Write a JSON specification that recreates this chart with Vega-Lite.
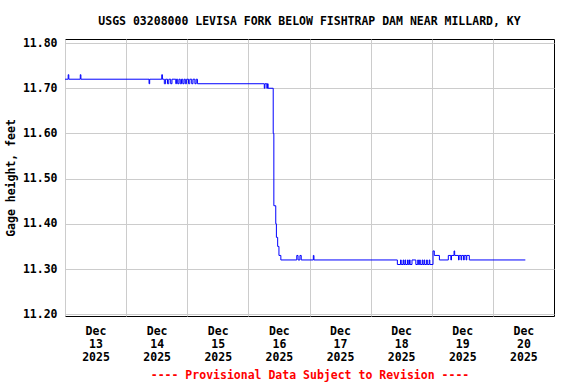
{
  "$schema": "https://vega.github.io/schema/vega-lite/v6.json",
  "autosize": "none",
  "width": 489,
  "height": 277,
  "padding": {"left": 65, "top": 39, "right": 22, "bottom": 68},
  "background": "white",
  "title": {
    "text": "USGS 03208000 LEVISA FORK BELOW FISHTRAP DAM NEAR MILLARD, KY",
    "font": "DejaVu Sans Mono",
    "fontSize": 11.5,
    "fontWeight": "bold",
    "color": "black",
    "anchor": "middle",
    "offset": 10
  },
  "config": {
    "view": {"stroke": "black", "strokeWidth": 1},
    "axis": {
      "labelFont": "DejaVu Sans Mono",
      "labelFontSize": 11.5,
      "labelFontWeight": "bold",
      "labelColor": "black",
      "titleFont": "DejaVu Sans Mono",
      "titleFontSize": 11.5,
      "titleFontWeight": "bold",
      "titleColor": "black",
      "gridColor": "#cccccc",
      "gridOpacity": 1,
      "gridWidth": 1,
      "domain": false,
      "ticks": false
    }
  },
  "data": {
    "values": [
      {"t": "2025-12-13T00:00", "v": 11.72},
      {"t": "2025-12-13T01:15", "v": 11.73},
      {"t": "2025-12-13T01:30", "v": 11.72},
      {"t": "2025-12-13T06:00", "v": 11.73},
      {"t": "2025-12-13T06:15", "v": 11.72},
      {"t": "2025-12-14T09:00", "v": 11.71},
      {"t": "2025-12-14T09:15", "v": 11.72},
      {"t": "2025-12-14T14:00", "v": 11.73},
      {"t": "2025-12-14T14:15", "v": 11.72},
      {"t": "2025-12-14T15:00", "v": 11.71},
      {"t": "2025-12-14T15:30", "v": 11.72},
      {"t": "2025-12-14T16:15", "v": 11.71},
      {"t": "2025-12-14T16:45", "v": 11.72},
      {"t": "2025-12-14T17:30", "v": 11.71},
      {"t": "2025-12-14T18:00", "v": 11.72},
      {"t": "2025-12-14T19:30", "v": 11.71},
      {"t": "2025-12-14T19:45", "v": 11.72},
      {"t": "2025-12-14T20:15", "v": 11.71},
      {"t": "2025-12-14T20:45", "v": 11.72},
      {"t": "2025-12-14T21:15", "v": 11.71},
      {"t": "2025-12-14T21:45", "v": 11.72},
      {"t": "2025-12-14T22:15", "v": 11.71},
      {"t": "2025-12-14T22:45", "v": 11.72},
      {"t": "2025-12-14T23:15", "v": 11.71},
      {"t": "2025-12-14T23:45", "v": 11.72},
      {"t": "2025-12-15T00:30", "v": 11.71},
      {"t": "2025-12-15T01:00", "v": 11.72},
      {"t": "2025-12-15T01:45", "v": 11.71},
      {"t": "2025-12-15T02:15", "v": 11.72},
      {"t": "2025-12-15T03:00", "v": 11.71},
      {"t": "2025-12-15T03:30", "v": 11.72},
      {"t": "2025-12-15T04:00", "v": 11.71},
      {"t": "2025-12-16T06:15", "v": 11.70},
      {"t": "2025-12-16T06:30", "v": 11.71},
      {"t": "2025-12-16T07:15", "v": 11.70},
      {"t": "2025-12-16T07:30", "v": 11.71},
      {"t": "2025-12-16T07:45", "v": 11.70},
      {"t": "2025-12-16T09:45", "v": 11.60},
      {"t": "2025-12-16T10:00", "v": 11.44},
      {"t": "2025-12-16T10:45", "v": 11.40},
      {"t": "2025-12-16T11:00", "v": 11.37},
      {"t": "2025-12-16T11:30", "v": 11.35},
      {"t": "2025-12-16T12:00", "v": 11.33},
      {"t": "2025-12-16T12:45", "v": 11.32},
      {"t": "2025-12-16T19:00", "v": 11.33},
      {"t": "2025-12-16T19:30", "v": 11.32},
      {"t": "2025-12-16T20:15", "v": 11.33},
      {"t": "2025-12-16T20:45", "v": 11.32},
      {"t": "2025-12-17T01:30", "v": 11.33},
      {"t": "2025-12-17T01:45", "v": 11.32},
      {"t": "2025-12-18T10:30", "v": 11.31},
      {"t": "2025-12-18T11:45", "v": 11.32},
      {"t": "2025-12-18T12:00", "v": 11.31},
      {"t": "2025-12-18T12:45", "v": 11.32},
      {"t": "2025-12-18T13:00", "v": 11.31},
      {"t": "2025-12-18T13:30", "v": 11.32},
      {"t": "2025-12-18T13:45", "v": 11.31},
      {"t": "2025-12-18T14:30", "v": 11.32},
      {"t": "2025-12-18T14:45", "v": 11.31},
      {"t": "2025-12-18T15:15", "v": 11.32},
      {"t": "2025-12-18T15:30", "v": 11.31},
      {"t": "2025-12-18T16:15", "v": 11.32},
      {"t": "2025-12-18T17:45", "v": 11.31},
      {"t": "2025-12-18T18:30", "v": 11.32},
      {"t": "2025-12-18T18:45", "v": 11.31},
      {"t": "2025-12-18T19:15", "v": 11.32},
      {"t": "2025-12-18T19:30", "v": 11.31},
      {"t": "2025-12-18T20:15", "v": 11.32},
      {"t": "2025-12-18T20:30", "v": 11.31},
      {"t": "2025-12-18T21:00", "v": 11.32},
      {"t": "2025-12-18T21:15", "v": 11.31},
      {"t": "2025-12-18T22:00", "v": 11.32},
      {"t": "2025-12-18T22:15", "v": 11.31},
      {"t": "2025-12-18T23:00", "v": 11.32},
      {"t": "2025-12-18T23:15", "v": 11.31},
      {"t": "2025-12-19T00:30", "v": 11.34},
      {"t": "2025-12-19T01:00", "v": 11.33},
      {"t": "2025-12-19T03:00", "v": 11.32},
      {"t": "2025-12-19T06:30", "v": 11.33},
      {"t": "2025-12-19T07:30", "v": 11.32},
      {"t": "2025-12-19T07:45", "v": 11.33},
      {"t": "2025-12-19T08:45", "v": 11.34},
      {"t": "2025-12-19T09:00", "v": 11.33},
      {"t": "2025-12-19T10:30", "v": 11.32},
      {"t": "2025-12-19T10:45", "v": 11.33},
      {"t": "2025-12-19T11:30", "v": 11.32},
      {"t": "2025-12-19T11:45", "v": 11.33},
      {"t": "2025-12-19T12:30", "v": 11.32},
      {"t": "2025-12-19T12:45", "v": 11.33},
      {"t": "2025-12-19T13:30", "v": 11.32},
      {"t": "2025-12-19T13:45", "v": 11.33},
      {"t": "2025-12-19T14:45", "v": 11.32},
      {"t": "2025-12-20T12:45", "v": 11.32}
    ]
  },
  "mark": {"type": "line", "interpolate": "step-after", "color": "#0000ff", "strokeWidth": 1, "clip": true},
  "encoding": {
    "x": {
      "field": "t",
      "type": "temporal",
      "scale": {
        "domain": [
          {"year": 2025, "month": 12, "date": 13, "hours": 0},
          {"year": 2025, "month": 12, "date": 21, "hours": 0}
        ]
      },
      "axis": {
        "values": [
          {"year": 2025, "month": 12, "date": 13},
          {"year": 2025, "month": 12, "date": 14},
          {"year": 2025, "month": 12, "date": 15},
          {"year": 2025, "month": 12, "date": 16},
          {"year": 2025, "month": 12, "date": 17},
          {"year": 2025, "month": 12, "date": 18},
          {"year": 2025, "month": 12, "date": 19},
          {"year": 2025, "month": 12, "date": 20}
        ],
        "labelExpr": "[timeFormat(datum.value, '%b'), timeFormat(datum.value, '%d'), timeFormat(datum.value, '%Y')]",
        "labelOffset": 30.5,
        "labelFlush": false,
        "labelOverlap": false,
        "labelPadding": 9,
        "labelLineHeight": 13,
        "labelBaseline": "top",
        "title": "---- Provisional Data Subject to Revision ----",
        "titleColor": "#ff0000",
        "titlePadding": 7
      }
    },
    "y": {
      "field": "v",
      "type": "quantitative",
      "scale": {"domain": [11.196, 11.809], "zero": false, "nice": false},
      "axis": {
        "values": [11.2, 11.3, 11.4, 11.5, 11.6, 11.7, 11.8],
        "format": ".2f",
        "labelPadding": 8,
        "title": "Gage height, feet",
        "titlePadding": 6
      }
    }
  }
}
